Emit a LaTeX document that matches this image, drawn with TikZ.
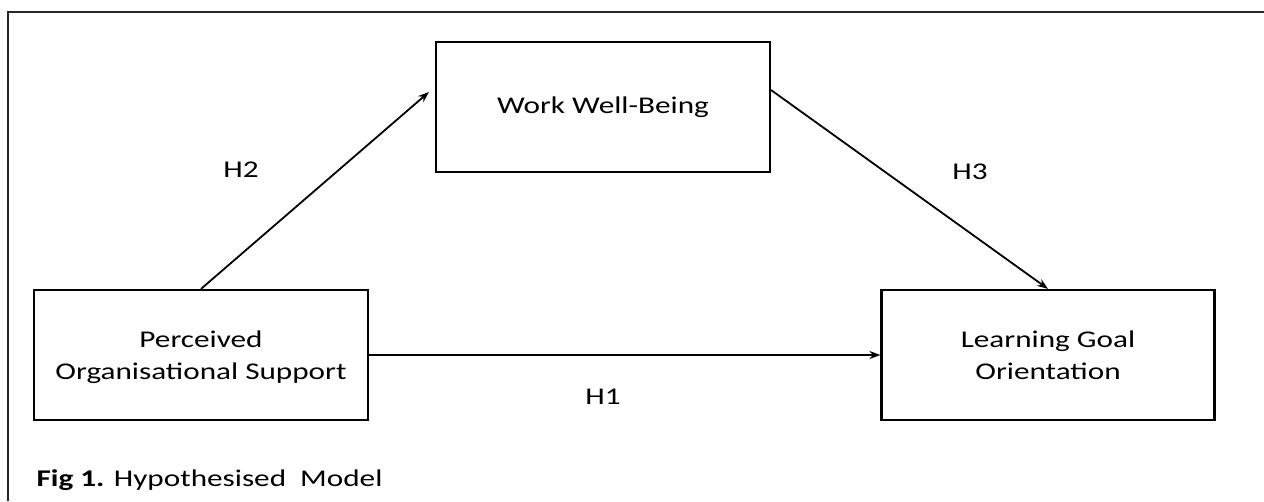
\documentclass[tikz,border=0pt]{standalone}
\usepackage{fontspec}
\setmainfont{Carlito}
\usepackage{graphicx}
\usepackage{tikz}
\usetikzlibrary{positioning, arrows.meta}
\newcommand{\wide}[1]{\scalebox{1.3}[1]{#1}}
\tikzstyle{construct} = [rectangle, minimum width=334pt, minimum height=130pt, text centered, align=center, line width=2.2pt, draw=black, font=\fontsize{24}{32}\selectfont]
\tikzstyle{hyp} = [font=\fontsize{24}{29}\selectfont]
\tikzstyle{path} = [-{Stealth[length=11pt, width=8pt]}, line width=1.8pt]

\begin{document}
\begin{tikzpicture}[x=1pt, y=-1pt]
		\useasboundingbox (0,0) rectangle (1264,501);
		\draw [line width=2.4pt, black!85] (8,501) -- (8,12) -- (1264,12);
		\node (POS)[construct] at (201,355) {\wide{Perceived}\\\smash{\wide{Organisational Support}}};
		\node (WWB)[construct] at (603,107) {\wide{Work Well-Being}};
		\node (LGO)[construct, minimum width=333pt] at (1048,355) {\wide{Learning Goal}\\\wide{Orientation}};
		\coordinate (H2 tip) at (429,92);
		\coordinate (H3 tail) at (771,90);
		\draw [path] (POS.north) -- (H2 tip);
		\draw [path] (H3 tail) -- (LGO.north);
		\draw [path] (POS.east) -- (LGO.west);
		\node (H1)[hyp] at (603,397) {\wide{H1}};
		\node (H2)[hyp] at (241,170) {\wide{H2}};
		\node (H3)[hyp] at (970,172) {\wide{H3}};
		\node (Caption)[hyp, anchor=west] at (33,480) {\wide{\textbf{Fig 1.} Hypothesised~ Model}};
	\end{tikzpicture}
\end{document}
